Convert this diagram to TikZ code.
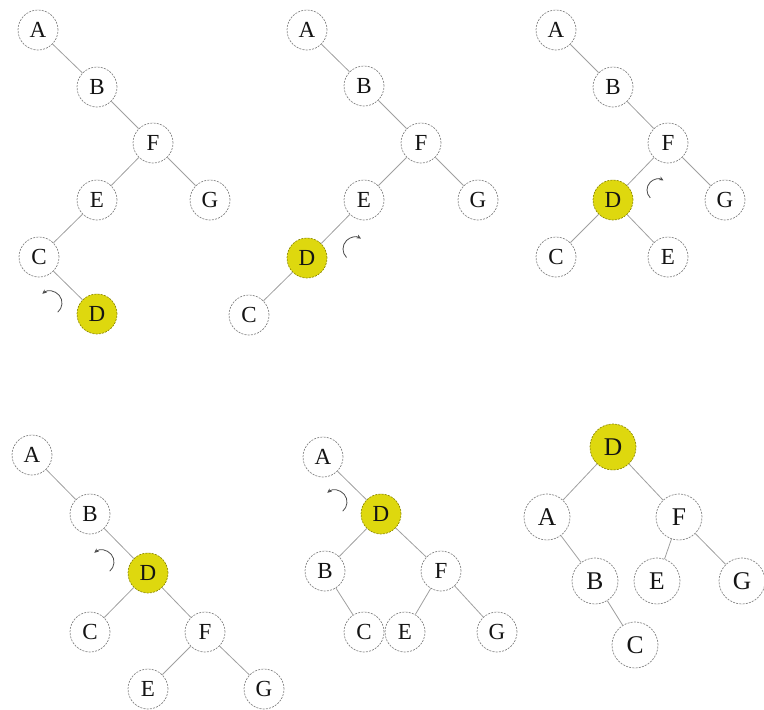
\documentclass[tikz,border=0pt]{standalone}
\usepackage{fontspec}
\setmainfont{Liberation Serif}
\usetikzlibrary{arrows.meta}
\definecolor{hl}{RGB}{222,216,14}
\definecolor{ln}{RGB}{160,160,160}
\definecolor{cb}{RGB}{135,135,135}
\definecolor{txt}{RGB}{20,20,20}
\tikzset{
  x=1pt, y=-1pt,
  tn/.style={circle, draw=cb, line width=0.7pt, dash pattern=on 2pt off 1.2pt, fill=white,
    minimum size=40pt, inner sep=0pt, text=txt, font=\fontsize{23}{23}\selectfont},
  bn/.style={tn, minimum size=46pt, font=\fontsize{25.5}{25.5}\selectfont},
  hot/.style={fill=hl, draw=hl!65!black},
  edge/.style={draw=ln, line width=0.8pt},
  rot/.style={draw=black!70, line width=0.8pt, -{Stealth[length=4.5pt,width=4pt]}}
}
\begin{document}
\begin{tikzpicture}
\useasboundingbox (0,0) rectangle (764,710);
% Tree 1
\node[tn] (A1) at (38,30) {A};
\node[tn] (B1) at (97,87) {B};
\node[tn] (F1) at (153,143) {F};
\node[tn] (E1) at (97,200) {E};
\node[tn] (G1) at (210,200) {G};
\node[tn] (C1) at (39,257) {C};
\node[tn,hot] (D1) at (97,314) {D};
\draw[edge] (A1)--(B1) (B1)--(F1) (F1)--(E1) (F1)--(G1) (E1)--(C1) (C1)--(D1);
\coordinate (r1) at (50,303);
\draw[rot] (r1) ++(50:12) arc (50:-130:12);
% Tree 2
\node[tn] (A2) at (307,30) {A};
\node[tn] (B2) at (364,86) {B};
\node[tn] (F2) at (421,143) {F};
\node[tn] (E2) at (364,200) {E};
\node[tn] (G2) at (478,200) {G};
\node[tn,hot] (D2) at (307,258) {D};
\node[tn] (C2) at (249,315) {C};
\draw[edge] (A2)--(B2) (B2)--(F2) (F2)--(E2) (F2)--(G2) (E2)--(D2) (D2)--(C2);
\coordinate (r2) at (355,249);
\draw[rot] (r2) ++(135:12) arc (135:300:12);
% Tree 3
\node[tn] (A3) at (556,30) {A};
\node[tn] (B3) at (613,87) {B};
\node[tn] (F3) at (668,143) {F};
\node[tn,hot] (D3) at (613,200) {D};
\node[tn] (G3) at (725,200) {G};
\node[tn] (C3) at (556,257) {C};
\node[tn] (E3) at (668,257) {E};
\draw[edge] (A3)--(B3) (B3)--(F3) (F3)--(D3) (F3)--(G3) (D3)--(C3) (D3)--(E3);
\coordinate (r3) at (658,190);
\draw[rot] (r3) ++(135:11) arc (135:300:11);
% Tree 4
\node[tn] (A4) at (32,455) {A};
\node[tn] (B4) at (90,514) {B};
\node[tn,hot] (D4) at (148,573) {D};
\node[tn] (C4) at (90,632) {C};
\node[tn] (F4) at (205,632) {F};
\node[tn] (E4) at (148,689) {E};
\node[tn] (G4) at (264,689) {G};
\draw[edge] (A4)--(B4) (B4)--(D4) (D4)--(C4) (D4)--(F4) (F4)--(E4) (F4)--(G4);
\coordinate (r4) at (102,562);
\draw[rot] (r4) ++(50:12) arc (50:-130:12);
% Tree 5
\node[tn] (A5) at (323,457) {A};
\node[tn,hot] (D5) at (381,514) {D};
\node[tn] (B5) at (325,571) {B};
\node[tn] (F5) at (441,571) {F};
\node[tn] (C5) at (364,632) {C};
\node[tn] (E5) at (405,632) {E};
\node[tn] (G5) at (497,632) {G};
\draw[edge] (A5)--(D5) (D5)--(B5) (D5)--(F5) (B5)--(C5) (F5)--(E5) (F5)--(G5);
\coordinate (r5) at (335,502);
\draw[rot] (r5) ++(50:12) arc (50:-130:12);
% Tree 6
\node[bn,hot] (D6) at (613,447) {D};
\node[bn] (A6) at (547,517) {A};
\node[bn] (F6) at (679,517) {F};
\node[bn] (B6) at (595,581) {B};
\node[bn] (E6) at (657,581) {E};
\node[bn] (G6) at (742,581) {G};
\node[bn] (C6) at (635,645) {C};
\draw[edge] (D6)--(A6) (D6)--(F6) (A6)--(B6) (B6)--(C6) (F6)--(E6) (F6)--(G6);
\end{tikzpicture}
\end{document}
